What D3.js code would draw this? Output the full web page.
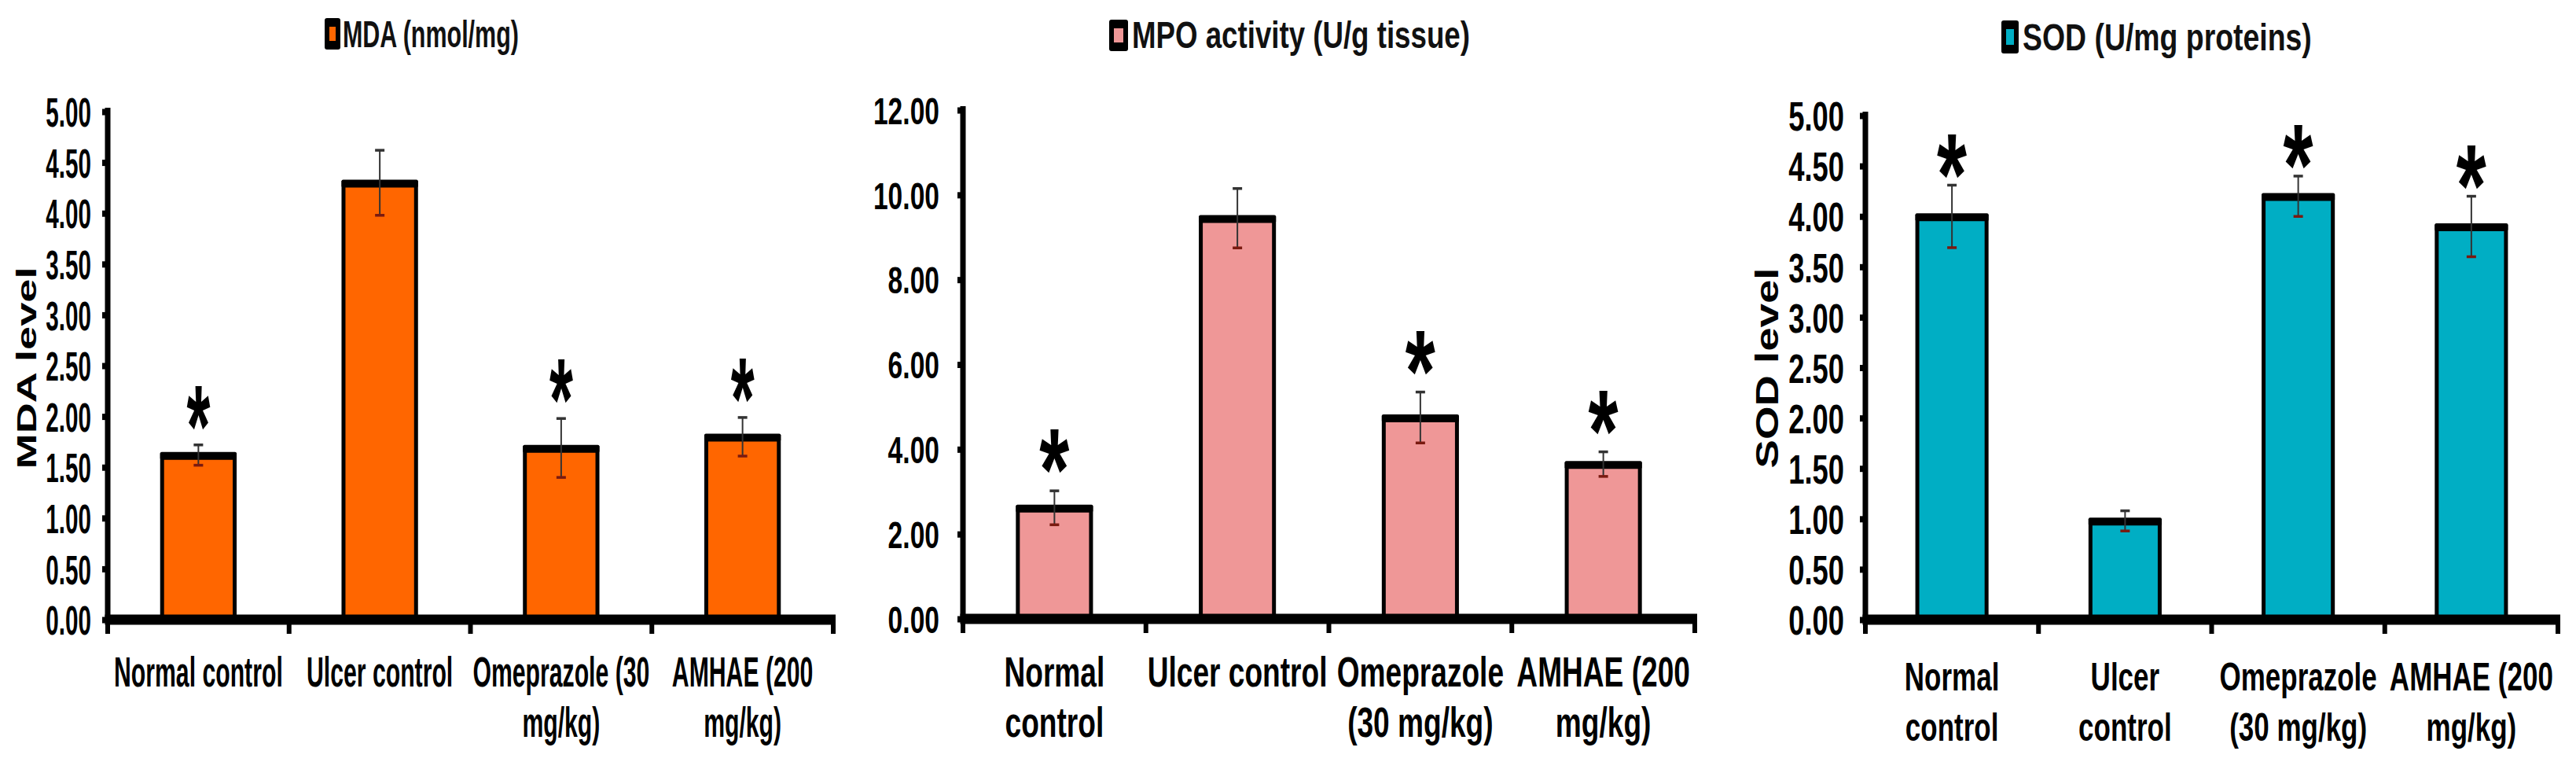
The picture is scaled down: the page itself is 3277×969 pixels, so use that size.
<!DOCTYPE html>
<html><head><meta charset="utf-8">
<script src="https://cdn.jsdelivr.net/npm/d3@7/dist/d3.min.js"></script>
<style>body{margin:0;background:#fff}svg{display:block;background:#fff}</style>
</head><body>
<svg id="chart" width="3277" height="969"></svg>
<script>
// ---------- data ----------
const categories = ["Normal control", "Ulcer control", "Omeprazole (30 mg/kg)", "AMHAE (200 mg/kg)"];
const mdaLabels = [["Normal control"], ["Ulcer control"], ["Omeprazole (30", "mg/kg)"], ["AMHAE (200", "mg/kg)"]];
const mpoLabels = [["Normal", "control"], ["Ulcer control"], ["Omeprazole", "(30 mg/kg)"], ["AMHAE (200", "mg/kg)"]];
const sodLabels = [["Normal", "control"], ["Ulcer", "control"], ["Omeprazole", "(30 mg/kg)"], ["AMHAE (200", "mg/kg)"]];

const mdaValues = [1.62, 4.30, 1.69, 1.80];
const mdaErrors = [0.10, 0.32, 0.29, 0.19];
const mpoValues = [2.62, 9.45, 4.75, 3.65];
const mpoErrors = [0.40, 0.70, 0.60, 0.29];
const sodValues = [4.00, 0.98, 4.20, 3.90];
const sodErrors = [0.31, 0.10, 0.20, 0.30];
const significant = [true, false, true, true];

const mdaTicks = [0, 0.5, 1, 1.5, 2, 2.5, 3, 3.5, 4, 4.5, 5];
const mpoTicks = [0, 2, 4, 6, 8, 10, 12];
const sodTicks = [0, 0.5, 1, 1.5, 2, 2.5, 3, 3.5, 4, 4.5, 5];

const titles = ["MDA (nmol/mg)", "MPO activity (U/g tissue)", "SOD (U/mg proteins)"];
const yTitles = ["MDA level", null, "SOD level"];
const colors = ["#FF6600", "#EF9797", "#00AEC4"];

// ---------- layout / style ----------
const layouts = [
  {x0:137, x1:1060, y0:788, yTop:142, k:0.57, tickF:52, tickGap:21, catF:53, catBase:873,
   astK:0.52, astGap:30, tSw:[413,23,20,40], tX:436, tBase:60, tW:224,
   yl:{x:46, y:468, f:35, len:257}},
  {x0:1225, x1:2156, y0:787, yTop:140, k:0.70, tickF:48, tickGap:30, catF:53, catBase:873,
   astK:0.66, astGap:33, tSw:[1411,25,24,40], tX:1440, tBase:61, tW:430, yl:null},
  {x0:2373, x1:3254, y0:788, yTop:147, k:0.70, tickF:52, tickGap:27, catF:50, catBase:878,
   astK:0.66, astGap:20, tSw:[2546,26,22,42], tX:2573, tBase:64, tW:368,
   yl:{x:2262, y:468, f:40, len:255}}
];

const panels = [
  {values: mdaValues, errors: mdaErrors, labels: mdaLabels, ticks: mdaTicks},
  {values: mpoValues, errors: mpoErrors, labels: mpoLabels, ticks: mpoTicks},
  {values: sodValues, errors: sodErrors, labels: sodLabels, ticks: sodTicks}
];

const FONT = "'Liberation Sans', Arial, sans-serif";
const svg = d3.select("#chart");
svg.append("rect").attr("width", 3277).attr("height", 969).attr("fill", "#fff");

panels.forEach((p, pi) => {
  const L = layouts[pi];
  const g = svg.append("g");
  const x = d3.scaleBand().domain(d3.range(categories.length)).range([L.x0, L.x1])
    .paddingInner(0.6).paddingOuter(0.3);
  const y = d3.scaleLinear().domain([0, d3.max(p.ticks)]).range([L.y0, L.yTop]);
  const bw = x.bandwidth();

  // bars
  g.selectAll("rect.bar").data(p.values).join("rect").attr("class", "bar")
    .attr("x", (d, i) => x(i)).attr("y", d => y(d))
    .attr("width", bw).attr("height", d => y(0) - y(d))
    .attr("fill", colors[pi]).attr("stroke", "#000").attr("stroke-width", 5);
  g.selectAll("rect.top").data(p.values).join("rect").attr("class", "top")
    .attr("x", (d, i) => x(i) - 2.5).attr("width", bw + 5)
    .attr("y", d => y(d) - 4).attr("height", 10).attr("rx", 2)
    .attr("fill", "#000");

  // error bars
  p.values.forEach((v, i) => {
    const cx = x(i) + bw / 2, e = p.errors[i];
    g.append("line").attr("x1", cx).attr("x2", cx).attr("y1", y(v + e)).attr("y2", y(v - e))
      .attr("stroke", "#333").attr("stroke-width", 2);
    g.append("line").attr("x1", cx - 6).attr("x2", cx + 6).attr("y1", y(v + e)).attr("y2", y(v + e))
      .attr("stroke", "#333").attr("stroke-width", 3.5);
    g.append("line").attr("x1", cx - 6).attr("x2", cx + 6).attr("y1", y(v - e)).attr("y2", y(v - e))
      .attr("stroke", "#7a1a10").attr("stroke-width", 3.5);
    if (significant[i]) {
      const F = 148;
      g.append("text").text("*")
        .attr("transform", `translate(${cx},${y(v + e) - L.astGap + 0.387 * F}) scale(${L.astK},1)`)
        .attr("text-anchor", "middle").attr("font-family", FONT).attr("font-weight", "bold")
        .attr("font-size", F).attr("fill", "#000");
    }
  });

  // y axis
  const ya = g.append("g").attr("transform", `translate(${L.x0},0)`)
    .call(d3.axisLeft(y).tickValues(p.ticks).tickFormat(d3.format(".2f"))
      .tickSize(7).tickSizeOuter(0).tickPadding(L.tickGap - 7));
  ya.select(".domain").attr("stroke", "#000").attr("stroke-width", 7)
    .attr("d", `M0,${L.yTop - 5}V${L.y0}`);
  ya.selectAll(".tick line").attr("stroke", "#000").attr("stroke-width", 8);
  ya.selectAll(".tick text").attr("font-family", FONT).attr("font-weight", "bold")
    .attr("font-size", L.tickF).attr("fill", "#000").attr("dy", "0.36em")
    .attr("x", 0).attr("transform", `translate(${-L.tickGap},0) scale(${L.k},1)`);

  // x axis
  g.append("line").attr("x1", L.x0 - 3.5).attr("x2", L.x1 + 3)
    .attr("y1", y(0)).attr("y2", y(0)).attr("stroke", "#000").attr("stroke-width", 13);
  d3.range(categories.length + 1).forEach(j => {
    const tx = L.x0 + j * x.step();
    g.append("line").attr("x1", tx).attr("x2", tx).attr("y1", y(0)).attr("y2", y(0) + 18)
      .attr("stroke", "#000").attr("stroke-width", 6);
  });
  p.labels.forEach((lines, i) => {
    const t = g.append("text").attr("text-anchor", "middle").attr("font-family", FONT)
      .attr("font-weight", "bold").attr("font-size", L.catF).attr("fill", "#000")
      .attr("transform", `translate(${x(i) + bw / 2},0) scale(${L.k},1)`);
    lines.forEach((ln, li) => {
      t.append("tspan").attr("x", 0).attr("y", L.catBase + li * 64).text(ln);
    });
  });

  // title with legend swatch
  const sw = L.tSw;
  g.append("rect").attr("x", sw[0]).attr("y", sw[1]).attr("width", sw[2]).attr("height", sw[3])
    .attr("rx", 3).attr("fill", "#000");
  g.append("rect").attr("x", sw[0] + 6).attr("y", sw[1] + 11).attr("width", sw[2] - 12).attr("height", sw[3] - 22)
    .attr("fill", colors[pi]);
  const tt = g.append("text").attr("x", 0).attr("y", 0).text(titles[pi])
    .attr("font-family", FONT).attr("font-weight", "bold").attr("font-size", 48).attr("fill", "#111");
  const tw = tt.node().getComputedTextLength();
  tt.attr("transform", `translate(${L.tX},${L.tBase}) scale(${L.tW / tw},1)`);

  // y axis title
  if (L.yl) {
    const yt = g.append("text").attr("text-anchor", "middle").text(yTitles[pi])
      .attr("font-family", FONT).attr("font-weight", "bold").attr("font-size", L.yl.f)
      .attr("fill", "#000");
    const yw = yt.node().getComputedTextLength();
    yt.attr("transform", `translate(${L.yl.x},${L.yl.y}) rotate(-90) scale(${L.yl.len / yw},1)`);
  }
});
</script>
</body></html>
